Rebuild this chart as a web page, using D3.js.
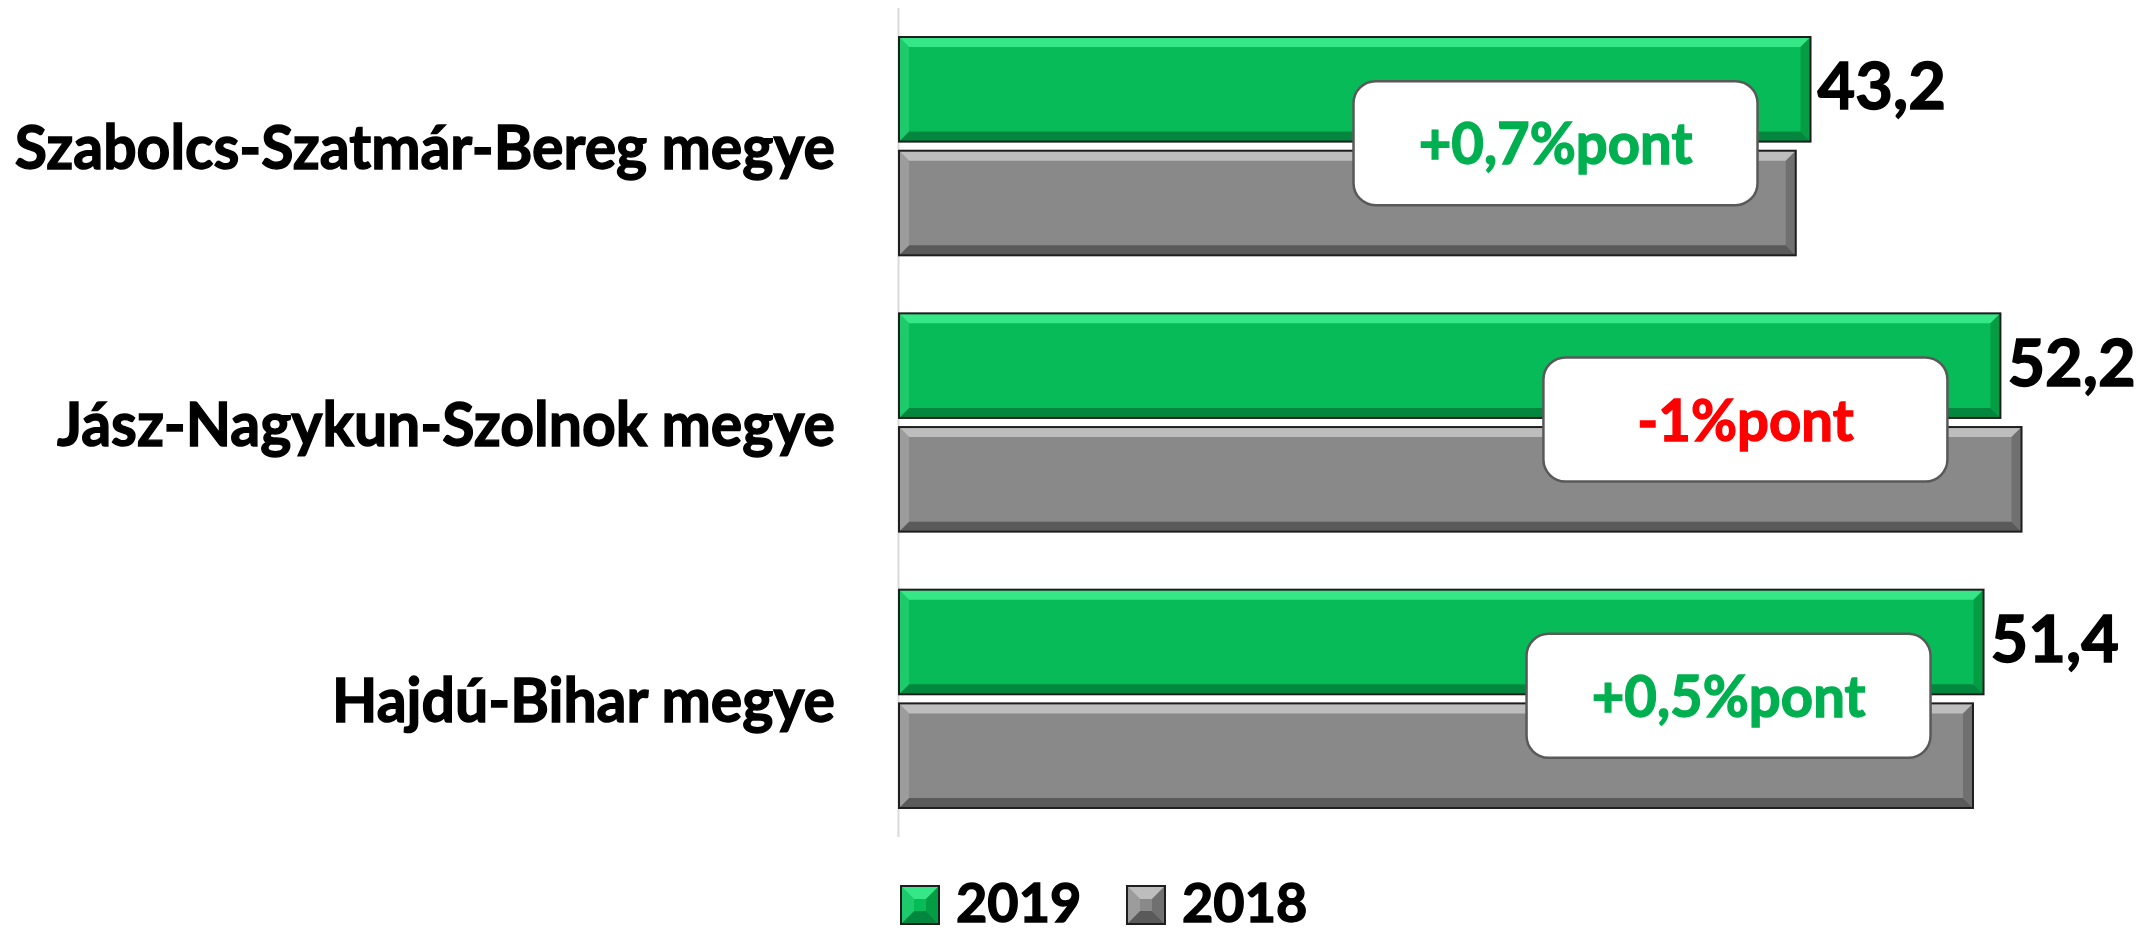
<!DOCTYPE html>
<html>
<head>
<meta charset="utf-8">
<script src="https://cdn.jsdelivr.net/npm/d3@7"></script>
<style>
  body { margin: 0; background: #fff; }
  svg text { font-family: Lato, "Open Sans", sans-serif; font-weight: 700; paint-order: stroke; stroke-width: 1.4px; }
</style>
</head>
<body>
<svg id="chart"></svg>
<script>
const width = 2153;
const height = 934;

// data
const categories = ['Szabolcs-Szatmár-Bereg megye', 'Jász-Nagykun-Szolnok megye', 'Hajdú-Bihar megye'];
const values2019 = [43.2, 52.2, 51.4];
const values2018 = [42.5, 53.2, 50.9];
const seriesNames = ['2019', '2018'];

const colors = {
  '2019': { base: '#07bb59', top: '#45f596', bottom: '#037a38', left: '#2dd67b', right: '#04963f' },
  '2018': { base: '#898989', top: '#cfcfcf', bottom: '#4f4f4f', left: '#a9a9a9', right: '#6a6a6a' }
};

const rows = categories.map((c, i) => ({
  name: c,
  v: { '2019': values2019[i], '2018': values2018[i] }
}));

const svg = d3.select('#chart')
    .attr('width', width).attr('height', height);

const x = d3.scaleLinear().domain([0, 60]).range([899, 2165]);
const y = d3.scaleBand().domain(categories).range([8, 837])
    .paddingInner(0.21).paddingOuter(0.105);
const ySub = d3.scaleBand().domain(seriesNames).range([0, y.bandwidth()])
    .paddingInner(0.08);

// axis line
svg.append('line')
    .attr('x1', x(0) - 0.5).attr('x2', x(0) - 0.5)
    .attr('y1', y.range()[0]).attr('y2', y.range()[1])
    .style('stroke', '#d9d9d9')
    .style('stroke-width', 2);

// bar with a bevel on all four sides, like the Excel effect
function bevelBox(g, x0, y0, w, h, c, b) {
  const x1 = x0 + w, y1 = y0 + h;
  g.append('rect').attr('x', x0).attr('y', y0).attr('width', w).attr('height', h)
      .style('fill', c.base);
  const poly = (pts, fill, op) => g.append('polygon')
      .attr('points', pts.map(p => p.join(',')).join(' '))
      .style('fill', fill).style('opacity', op);
  poly([[x0, y0], [x1, y0], [x1 - b, y0 + b], [x0 + b, y0 + b]], c.top, 0.75);
  poly([[x0, y1], [x1, y1], [x1 - b, y1 - b], [x0 + b, y1 - b]], c.bottom, 0.8);
  poly([[x0, y0], [x0 + b, y0 + b], [x0 + b, y1 - b], [x0, y1]], c.left, 0.6);
  poly([[x1, y0], [x1 - b, y0 + b], [x1 - b, y1 - b], [x1, y1]], c.right, 0.8);
  g.append('rect').attr('x', x0).attr('y', y0).attr('width', w).attr('height', h)
      .style('fill', 'none').style('stroke', '#1e1e1e').style('stroke-width', 2);
}

// Lato is a bit wider than the original font, squeeze a little
function squeeze(sel, k) {
  sel.each(function () {
    const len = this.getComputedTextLength();
    d3.select(this).attr('textLength', len * k).attr('lengthAdjust', 'spacingAndGlyphs');
  });
}

const groups = svg.selectAll('.cat')
    .data(rows)
    .enter().append('g')
    .attr('class', 'cat');

groups.each(function (d) {
  const g = d3.select(this);
  seriesNames.forEach(s => {
    const yy = y(d.name) + ySub(s);
    bevelBox(g, x(0), yy, x(d.v[s]) - x(0), ySub.bandwidth(), colors[s], 10);
  });
});

// category labels
svg.selectAll('.catLabel')
    .data(rows)
    .enter().append('text')
    .attr('class', 'catLabel')
    .attr('x', 835)
    .attr('y', d => y(d.name) + y.bandwidth() / 2 + 23)
    .attr('text-anchor', 'end')
    .style('font-size', '62px')
    .style('fill', '#000').style('stroke', '#000')
    .text(d => d.name)
    .call(squeeze, 0.95);

// value labels of the 2019 bars
const fmt = v => String(v).replace('.', ',');
svg.selectAll('.valLabel')
    .data(rows)
    .enter().append('text')
    .attr('class', 'valLabel')
    .attr('y', d => y(d.name) + ySub('2019') + ySub.bandwidth() / 2 + 20)
    .style('font-size', '65px')
    .style('fill', '#000').style('stroke', '#000')
    .text(d => fmt(d.v['2019']))
    .attr('x', function (d) {
      const w = this.getComputedTextLength();
      return Math.min(x(d.v['2019']) + 7, width - 5 - w);
    });

// change boxes
const boxW = 404, boxH = 124;
const change = d => Math.round((d.v['2019'] - d.v['2018']) * 10) / 10;
const changeText = d => {
  const c = change(d);
  return (c > 0 ? '+' : '') + fmt(c) + '%pont';
};
const boxes = svg.selectAll('.box')
    .data(rows)
    .enter().append('g')
    .attr('class', 'box')
    .attr('transform', d => `translate(${x(d.v['2019']) - 255},${y(d.name) + y.bandwidth() / 2 - 3})`);

boxes.append('rect')
    .attr('x', -boxW / 2).attr('y', -boxH / 2)
    .attr('width', boxW).attr('height', boxH)
    .attr('rx', 22)
    .style('fill', '#fff')
    .style('stroke', '#595959')
    .style('stroke-width', 2.5);

boxes.append('text')
    .attr('text-anchor', 'middle')
    .attr('y', 21)
    .style('font-size', '58px')
    .style('fill', d => change(d) < 0 ? '#ff0000' : '#00b050')
    .style('stroke', d => change(d) < 0 ? '#ff0000' : '#00b050')
    .text(changeText)
    .call(squeeze, 0.97);

// legend
const legend = svg.append('g').attr('class', 'legend');
const legendX = [901, 1127];
seriesNames.forEach((s, i) => {
  const g = legend.append('g');
  bevelBox(g, legendX[i], 886, 38, 38, colors[s], 13);
  g.append('text')
      .attr('x', legendX[i] + 55)
      .attr('y', 922)
      .style('font-size', '54px')
      .style('fill', '#000').style('stroke', '#000')
      .text(s);
});
</script>
</body>
</html>
